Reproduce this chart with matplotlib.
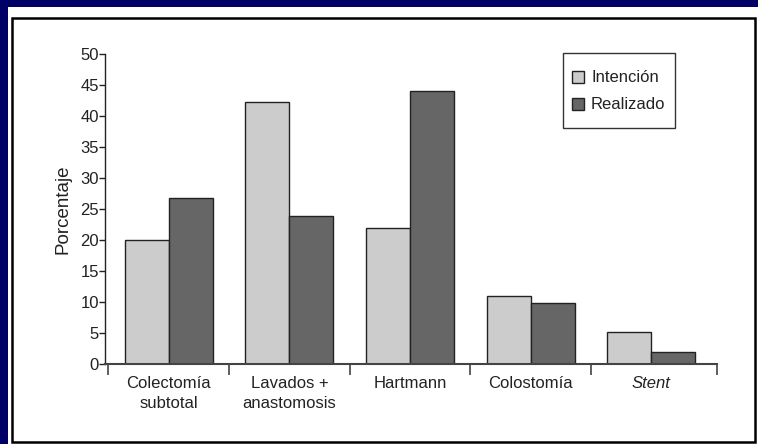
import numpy as np
import matplotlib
matplotlib.use("Agg")
import matplotlib.pyplot as plt
from matplotlib.patches import Rectangle
from matplotlib.container import BarContainer
from matplotlib.legend_handler import HandlerPatch

plt.rcParams['font.family'] = ['Liberation Sans', 'DejaVu Sans']

vecCats = ["Colectomía\nsubtotal", "Lavados +\nanastomosis", "Hartmann", "Colostomía", "Stent"]
vecIntencion = [20, 42.2, 21.9, 11, 5.1]
vecRealizado = [26.7, 23.9, 44, 9.9, 2]
vecSeries = ["Intención", "Realizado"]
vecColors = ["#cccccc", "#666666"]
vecYTicks = [0, 5, 10, 15, 20, 25, 30, 35, 40, 45, 50]

W, H = 758, 444
fSize = 12
fig = plt.figure(figsize=(W / 100, H / 100), dpi=100)
fig.patch.set_facecolor("#000066")

# white panel + black frame
fig.add_artist(Rectangle((8 / W, 0), 1 - 8 / W, 1 - 7 / H, transform=fig.transFigure,
                         facecolor="white", edgecolor="none", zorder=0))
fig.add_artist(Rectangle((12 / W, 2 / H), (755 - 12) / W, (442 - 18) / H, transform=fig.transFigure,
                         facecolor="none", edgecolor="black", linewidth=1.8, zorder=1))

ax = fig.add_axes([105 / W, 1 - 364 / H, (717 - 105) / W, (364 - 54) / H])
ax.set_facecolor("none")

x = np.arange(len(vecCats))
w = 0.365
ax.bar(x - w / 2, vecIntencion, w, color=vecColors[0], edgecolor="#222222", linewidth=1.0, label=vecSeries[0])
ax.bar(x + w / 2, vecRealizado, w, color=vecColors[1], edgecolor="#222222", linewidth=1.0, label=vecSeries[1])

xMax = 4.546
ax.set_xlim(-0.529, xMax)
ax.set_ylim(0, 50)

for s in ["top", "right"]:
    ax.spines[s].set_visible(False)
ax.spines["left"].set_color("#222222")
ax.spines["bottom"].set_color("#444444")
ax.spines["left"].set_linewidth(1.0)
ax.spines["bottom"].set_linewidth(1.5)

ax.set_yticks(vecYTicks)
ax.tick_params(axis="y", length=4, width=1, color="#222222", labelsize=fSize, labelcolor="#222222", pad=0.5)

ax.set_xticks(x)
ax.set_xticklabels(vecCats)
ax.tick_params(axis="x", which="major", length=0, labelsize=fSize, labelcolor="#222222", pad=9)
ax.set_xticks(list(np.arange(-0.5, len(vecCats) - 1)) + [xMax], minor=True)
ax.tick_params(axis="x", which="minor", length=8, width=1.2, color="#444444")
for lbl in ax.get_xticklabels():
    lbl.set_linespacing(1.4)
ax.get_xticklabels()[-1].set_style("italic")

ax.set_ylabel("Porcentaje", fontsize=13.5, color="#222222", labelpad=6)


# small square legend keys inside a taller row
def SquarePatch(legend, orig_handle, xdescent, ydescent, width, height, fontsize):
    return Rectangle((-xdescent, -ydescent + (height - width) / 2), width, width)


def FromFirstBar(tgt, src):
    tgt.update_from(src.patches[0])


leg = ax.legend(loc="upper right", bbox_to_anchor=(0.931, 1.003), borderaxespad=0,
                fontsize=fSize, fancybox=False, framealpha=1, edgecolor="#333333",
                handlelength=0.72, handleheight=2.35, handletextpad=0.4,
                labelspacing=-0.156, borderpad=0.55,
                handler_map={BarContainer: HandlerPatch(patch_func=SquarePatch, update_func=FromFirstBar)})
leg.get_frame().set_linewidth(1.0)
for t in leg.get_texts():
    t.set_color("#222222")

fig.savefig("out.png", dpi=100, facecolor=fig.get_facecolor())
